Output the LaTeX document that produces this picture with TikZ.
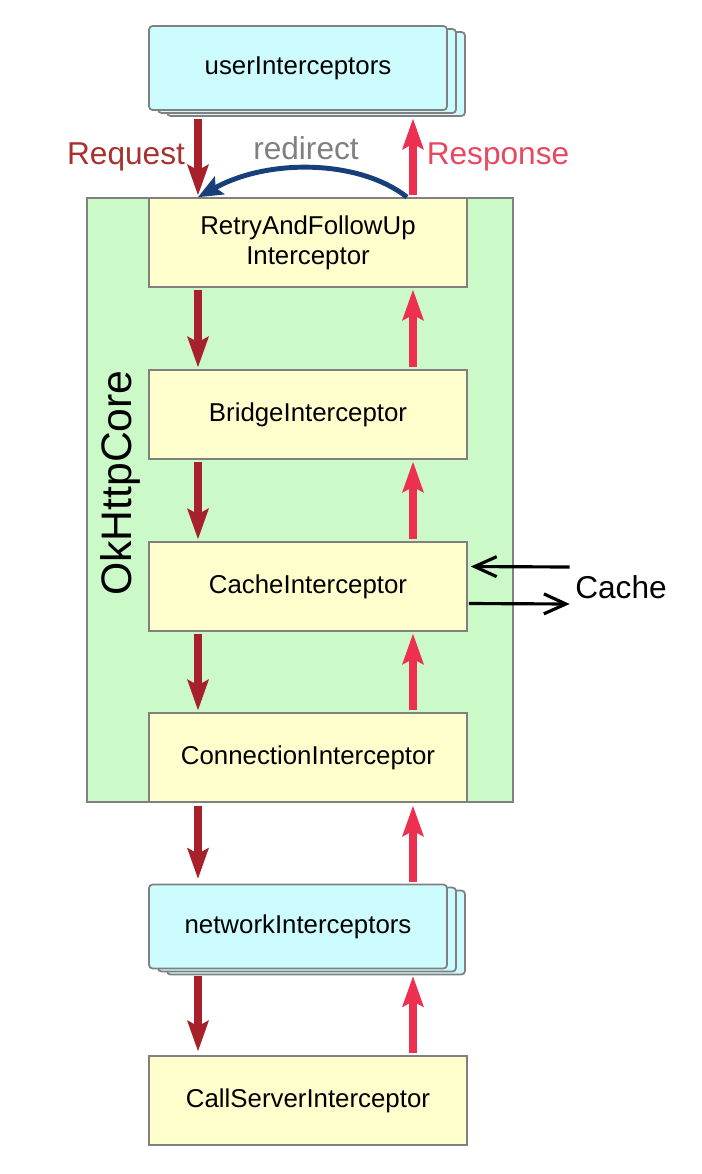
\documentclass[tikz,border=0pt]{standalone}
\usepackage{fontspec}
\setmainfont{Liberation Sans}
\usetikzlibrary{arrows.meta,shadows}

\definecolor{coregreen}{HTML}{CCF9C8}
\definecolor{boxyellow}{HTML}{FFFECC}
\definecolor{boxcyan}{HTML}{CCFCFE}
\definecolor{edgegray}{HTML}{808080}
\definecolor{reqred}{HTML}{A6212A}
\definecolor{reqtext}{HTML}{A8302E}
\definecolor{resppink}{HTML}{EE3050}
\definecolor{resptext}{HTML}{E8475F}
\definecolor{redirblue}{HTML}{173F7A}

\begin{document}
\begin{tikzpicture}[x=0.02cm, y=-0.02cm,
    boxfont/.style={font=\fontsize{14.7}{17}\selectfont},
    bigfont/.style={font=\fontsize{18}{21}\selectfont},
    core/.style={draw=edgegray, line width=1pt, fill=coregreen, minimum width=8.52cm, minimum height=12.08cm},
    interceptor/.style={boxfont, draw=edgegray, line width=1pt, fill=boxyellow, minimum width=6.36cm, minimum height=1.78cm, align=center},
    stackbox/.style={boxfont, draw=edgegray, line width=1pt, fill=boxcyan, rounded corners=2pt, minimum width=5.96cm, minimum height=1.68cm, double copy shadow={shadow xshift=0.18cm, shadow yshift=-0.06cm}},
    req/.style={draw=reqred, line width=4pt, shorten <=0.04cm, shorten >=0.04cm, -{Stealth[length=6.2mm, width=4.4mm, inset=1.2mm, line width=0pt]}},
    resp/.style={req, draw=resppink},
    redir/.style={draw=redirblue, line width=2.8pt, -{Stealth[length=5mm, width=4.2mm, inset=1mm, line width=0pt]}},
    cachearr/.style={draw=black, line width=1.8pt, -{Straight Barb[length=4.4mm, width=4mm]}}]
    \useasboundingbox (0,0) rectangle (702,1174);

    % x positions of the request and response lines
    \coordinate (reqx) at (198,0);
    \coordinate (respx) at (413,0);
    \coordinate (redx) at (407,0);

    % OkHttpCore frame
    \node (core) at (300,500) [core] {};
    \node (corelabel) at (120,483) [rotate=90, font=\fontsize{24.3}{27}\selectfont] {OkHttpCore};

    % Interceptors
    \node (user) at (298,68) [stackbox] {userInterceptors};
    \node (retry) at (308,242.5) [interceptor] {RetryAndFollowUp\\Interceptor};
    \node (bridge) at (308,414.5) [interceptor] {BridgeInterceptor};
    \node (cacheint) at (308,586.5) [interceptor] {CacheInterceptor};
    \node (conn) at (308,757.5) [interceptor] {ConnectionInterceptor};
    \node (network) at (298,926.5) [stackbox] {networkInterceptors};
    \node (callserver) at (308,1100.5) [interceptor] {CallServerInterceptor};

    % Labels
    \node (reqlabel) at (126,157) [bigfont, text=reqtext] {Request};
    \node (resplabel) at (498,157) [bigfont, text=resptext] {Response};
    \node (redirlabel) at (306,148) [bigfont, text=edgegray] {redirect};
    \node (cache) at (621,587) [bigfont, inner sep=3pt] {Cache};

    % Request goes down
    \draw[req, shorten <=0.16cm] (user.south -| reqx) -- (retry.north -| reqx);
    \draw[req] (retry.south -| reqx) -- (bridge.north -| reqx);
    \draw[req] (bridge.south -| reqx) -- (cacheint.north -| reqx);
    \draw[req] (cacheint.south -| reqx) -- (conn.north -| reqx);
    \draw[req, shorten <=0.06cm, shorten >=0.1cm] (conn.south -| reqx) -- (network.north -| reqx);
    \draw[req, shorten <=0.14cm, shorten >=0.08cm] (network.south -| reqx) -- (callserver.north -| reqx);

    % Response goes up
    \draw[resp, shorten >=0.16cm] (retry.north -| respx) -- (user.south -| respx);
    \draw[resp] (bridge.north -| respx) -- (retry.south -| respx);
    \draw[resp] (cacheint.north -| respx) -- (bridge.south -| respx);
    \draw[resp] (conn.north -| respx) -- (cacheint.south -| respx);
    \draw[resp, shorten >=0.06cm] (network.north -| respx) -- (conn.south -| respx);
    \draw[resp, shorten >=0.14cm] (callserver.north -| respx) -- (network.south -| respx);

    % redirect loop back into the retry interceptor
    \draw[redir] (retry.north -| redx) .. controls (360,160) and (270,158) .. (retry.north -| reqx);

    % Cache in and out
    \draw[cachearr, shorten >=0.06cm] ([yshift=0.4cm]cache.west) -- ([yshift=0.4cm]cacheint.east);
    \draw[cachearr, shorten <=0.02cm] ([yshift=-0.34cm]cacheint.east) -- ([yshift=-0.34cm]cache.west);

\end{tikzpicture}
\end{document}
